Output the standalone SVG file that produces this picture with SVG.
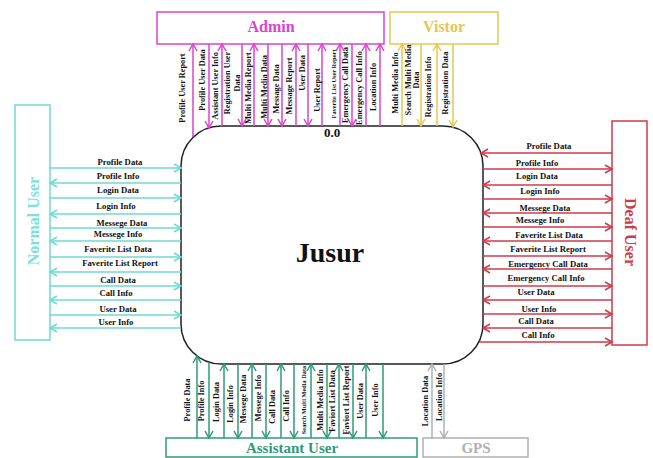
<svg xmlns="http://www.w3.org/2000/svg" width="653" height="458" viewBox="0 0 653 458">
<style>
.lbl{font-family:"Liberation Serif","Times New Roman",serif;font-weight:bold;font-size:8.7px;fill:#111}
.tl{font-family:"Liberation Serif","Times New Roman",serif;font-weight:bold;font-size:8.3px;fill:#111}
.sm{font-family:"Liberation Serif","Times New Roman",serif;font-weight:bold;font-size:6.3px;fill:#111}
.ent{font-family:"Liberation Serif","Times New Roman",serif;font-weight:bold;font-size:16px}
.cy{stroke:#6fd9d3;stroke-width:1.5;fill:none}
.rd{stroke:#cc3b4b;stroke-width:1.5;fill:none}
.mg{stroke:#d944cf;stroke-width:1.5;fill:none}
.yl{stroke:#e6c650;stroke-width:1.5;fill:none}
.gn{stroke:#2f9a7a;stroke-width:1.5;fill:none}
.gy{stroke:#b0b0b0;stroke-width:1.5;fill:none}
.cy line{marker-end:url(#acy)}
.rd line{marker-end:url(#ard)}
.mg line{marker-end:url(#amg)}
.yl line{marker-end:url(#ayl)}
.gn line{marker-end:url(#agn)}
.gy line{marker-end:url(#agy)}
</style>
<defs>
<marker id="acy" viewBox="0 0 8 8" refX="7" refY="4" markerWidth="8" markerHeight="8" orient="auto" markerUnits="userSpaceOnUse" overflow="visible"><path d="M0,0 L7,4 L0,8" fill="none" stroke="#6fd9d3" stroke-width="1.5"/></marker>
<marker id="ard" viewBox="0 0 8 8" refX="7" refY="4" markerWidth="8" markerHeight="8" orient="auto" markerUnits="userSpaceOnUse" overflow="visible"><path d="M0,0 L7,4 L0,8" fill="none" stroke="#cc3b4b" stroke-width="1.5"/></marker>
<marker id="amg" viewBox="0 0 8 8" refX="7" refY="4" markerWidth="8" markerHeight="8" orient="auto" markerUnits="userSpaceOnUse" overflow="visible"><path d="M0,0 L7,4 L0,8" fill="none" stroke="#d944cf" stroke-width="1.5"/></marker>
<marker id="ayl" viewBox="0 0 8 8" refX="7" refY="4" markerWidth="8" markerHeight="8" orient="auto" markerUnits="userSpaceOnUse" overflow="visible"><path d="M0,0 L7,4 L0,8" fill="none" stroke="#e6c650" stroke-width="1.5"/></marker>
<marker id="agn" viewBox="0 0 8 8" refX="7" refY="4" markerWidth="8" markerHeight="8" orient="auto" markerUnits="userSpaceOnUse" overflow="visible"><path d="M0,0 L7,4 L0,8" fill="none" stroke="#2f9a7a" stroke-width="1.5"/></marker>
<marker id="agy" viewBox="0 0 8 8" refX="7" refY="4" markerWidth="8" markerHeight="8" orient="auto" markerUnits="userSpaceOnUse" overflow="visible"><path d="M0,0 L7,4 L0,8" fill="none" stroke="#b0b0b0" stroke-width="1.5"/></marker>
</defs>
<rect width="653" height="458" fill="#fff"/>

<g id="process">
<rect x="181" y="126" width="302" height="238" rx="40" fill="#fff" stroke="#222" stroke-width="1.5"/>
<text x="332" y="137" text-anchor="middle" style="font-family:'Liberation Serif',serif;font-weight:bold;font-size:13px;fill:#111">0.0</text>
<text x="330" y="262" text-anchor="middle" style="font-family:'Liberation Serif',serif;font-weight:bold;font-size:28px;fill:#111">Jusur</text>
</g>

<g id="admin">
<rect x="157" y="12" width="227" height="32" fill="#fff" class="mg"/>
<text x="271" y="32" text-anchor="middle" class="ent" fill="#d944cf">Admin</text>
</g>
<g id="visitor">
<rect x="390" y="12" width="108" height="32" fill="#fff" class="yl"/>
<text x="444" y="32" text-anchor="middle" class="ent" fill="#e6c650">Vistor</text>
</g>
<g id="normal-user">
<rect x="15" y="105" width="35" height="235" fill="#fff" class="cy"/>
<text transform="translate(33,221) rotate(-90)" text-anchor="middle" dominant-baseline="central" class="ent" fill="#7fe0da">Normal User</text>
</g>
<g id="deaf-user">
<rect x="612" y="121" width="35" height="224" fill="#fff" class="rd"/>
<text transform="translate(630,232) rotate(90)" text-anchor="middle" dominant-baseline="central" class="ent" fill="#cc3b4b">Deaf User</text>
</g>
<g id="assistant-user">
<rect x="166" y="438" width="251" height="19" fill="#fff" class="gn"/>
<text x="292" y="453" text-anchor="middle" class="ent" style="font-size:15px" fill="#2f9a7a">Assistant User</text>
</g>
<g id="gps">
<rect x="423" y="438" width="105" height="19" fill="#fff" class="gy"/>
<text x="476" y="453" text-anchor="middle" class="ent" style="font-size:15px" fill="#b0b0b0">GPS</text>
</g>

<g id="connectors">
<g class="cy">
<line x1="50" y1="168" x2="181" y2="168"/>
<line x1="181" y1="183" x2="50" y2="183"/>
<line x1="50" y1="198" x2="181" y2="198"/>
<line x1="181" y1="214" x2="50" y2="214"/>
<line x1="50" y1="228" x2="181" y2="228"/>
<line x1="181" y1="241" x2="50" y2="241"/>
<line x1="50" y1="257" x2="181" y2="257"/>
<line x1="181" y1="272" x2="50" y2="272"/>
<line x1="50" y1="286" x2="181" y2="286"/>
<line x1="181" y1="300" x2="50" y2="300"/>
<line x1="50" y1="315" x2="181" y2="315"/>
<line x1="181" y1="328" x2="50" y2="328"/>
</g>
<g class="rd">
<line x1="612" y1="153" x2="481" y2="153"/>
<line x1="483" y1="169" x2="612" y2="169"/>
<line x1="612" y1="185" x2="483" y2="185"/>
<line x1="483" y1="199" x2="612" y2="199"/>
<line x1="612" y1="213" x2="483" y2="213"/>
<line x1="483" y1="227" x2="612" y2="227"/>
<line x1="612" y1="241" x2="483" y2="241"/>
<line x1="483" y1="256" x2="612" y2="256"/>
<line x1="612" y1="269" x2="483" y2="269"/>
<line x1="483" y1="286" x2="612" y2="286"/>
<line x1="612" y1="300" x2="483" y2="300"/>
<line x1="483" y1="314" x2="612" y2="314"/>
<line x1="612" y1="328" x2="483" y2="328"/>
<line x1="479" y1="342" x2="612" y2="342"/>
</g>
<g class="mg">
<line x1="193" y1="137" x2="193" y2="44"/>
<line x1="209" y1="44" x2="209" y2="128"/>
<line x1="222" y1="126" x2="222" y2="44"/>
<line x1="242" y1="44" x2="242" y2="126"/>
<line x1="254" y1="126" x2="254" y2="44"/>
<line x1="268" y1="44" x2="268" y2="126"/>
<line x1="282" y1="44" x2="282" y2="126"/>
<line x1="296" y1="126" x2="296" y2="44"/>
<line x1="308" y1="44" x2="308" y2="126"/>
<line x1="322" y1="126" x2="322" y2="44"/>
<line x1="340" y1="126" x2="340" y2="44"/>
<line x1="352" y1="44" x2="352" y2="126"/>
<line x1="366" y1="126" x2="366" y2="44"/>
<line x1="380" y1="126" x2="380" y2="44"/>
</g>
<g class="yl">
<line x1="402" y1="126" x2="402" y2="44"/>
<line x1="421" y1="44" x2="421" y2="126"/>
<line x1="437" y1="126" x2="437" y2="44"/>
<line x1="453" y1="44" x2="453" y2="127"/>
</g>
<g class="gn">
<line x1="197" y1="438" x2="197" y2="356"/>
<line x1="209" y1="362" x2="209" y2="438"/>
<line x1="224" y1="438" x2="224" y2="364"/>
<line x1="238" y1="364" x2="238" y2="438"/>
<line x1="252" y1="438" x2="252" y2="364"/>
<line x1="266" y1="364" x2="266" y2="438"/>
<line x1="281" y1="438" x2="281" y2="364"/>
<line x1="294" y1="364" x2="294" y2="438"/>
<line x1="311" y1="438" x2="311" y2="364"/>
<line x1="327" y1="364" x2="327" y2="438"/>
<line x1="339" y1="438" x2="339" y2="364"/>
<line x1="353" y1="364" x2="353" y2="438"/>
<line x1="366" y1="438" x2="366" y2="364"/>
<line x1="383" y1="364" x2="383" y2="438"/>
</g>
<g class="gy">
<line x1="432" y1="438" x2="432" y2="364"/>
<line x1="444" y1="364" x2="444" y2="438"/>
</g>
</g>

<g id="labels-left" class="lbl" text-anchor="middle">
<text x="120" y="165">Profile Data</text>
<text x="118" y="179">Profile Info</text>
<text x="118" y="193">Login Data</text>
<text x="116" y="209">Login Info</text>
<text x="122" y="226">Messege Data</text>
<text x="118" y="237">Messege Info</text>
<text x="118" y="252">Faverite List Data</text>
<text x="120" y="266">Faverite List Report</text>
<text x="118" y="283">Call Data</text>
<text x="116" y="296">Call Info</text>
<text x="118" y="312">User Data</text>
<text x="116" y="325">User Info</text>
</g>
<g id="labels-right" class="lbl" text-anchor="middle">
<text x="549" y="149">Profile Data</text>
<text x="537" y="166">Profile Info</text>
<text x="537" y="179">Login Data</text>
<text x="540" y="194">Login Info</text>
<text x="545" y="211">Messege Data</text>
<text x="540" y="223">Messege Info</text>
<text x="549" y="238">Faverite List Data</text>
<text x="548" y="252">Faverite List Report</text>
<text x="548" y="267">Emergency Call Data</text>
<text x="546" y="281">Emergency Call Info</text>
<text x="536" y="295">User Data</text>
<text x="539" y="312">User Info</text>
<text x="536" y="324">Call Data</text>
<text x="538" y="338">Call Info</text>
</g>
<g id="labels-top" class="tl" text-anchor="middle" dominant-baseline="central">
<text transform="translate(182,88) rotate(-90)">Profile User Report</text>
<text transform="translate(202,80) rotate(-90)">Profile User Data</text>
<text transform="translate(215,86) rotate(-90)">Assistant User Info</text>
<text transform="translate(227,83) rotate(-90)">Registration User</text>
<text transform="translate(237,83) rotate(-90)">Data</text>
<text transform="translate(248,88) rotate(-90)">Multi Media Report</text>
<text transform="translate(264,87) rotate(-90)">Multi Media Data</text>
<text transform="translate(276,89) rotate(-90)">Message Data</text>
<text transform="translate(289,86) rotate(-90)">Message Report</text>
<text transform="translate(302,73) rotate(-90)">User Data</text>
<text transform="translate(317,90) rotate(-90)">User Report</text>
<text class="sm" transform="translate(333,84) rotate(-90)">Faverite List User Report</text>
<text transform="translate(345,85) rotate(-90)">Emergency Call Data</text>
<text transform="translate(359,88) rotate(-90)">Emergency Call Info</text>
<text transform="translate(373,87) rotate(-90)">Location Info</text>
<text transform="translate(395,83) rotate(-90)">Multi Media Info</text>
<text transform="translate(408,80) rotate(-90)">Search Multi Media</text>
<text transform="translate(416,80) rotate(-90)">Data</text>
<text transform="translate(428,87) rotate(-90)">Registration Info</text>
<text transform="translate(445,83) rotate(-90)">Registration Data</text>
</g>
<g id="labels-bottom" class="tl" text-anchor="middle" dominant-baseline="central">
<text transform="translate(187,400) rotate(-90)">Profile Data</text>
<text transform="translate(201,401) rotate(-90)">Profile Info</text>
<text transform="translate(216,402) rotate(-90)">Login Data</text>
<text transform="translate(230,404) rotate(-90)">Login Info</text>
<text transform="translate(243,399) rotate(-90)">Messege Data</text>
<text transform="translate(258,398) rotate(-90)">Messege Info</text>
<text transform="translate(272,407) rotate(-90)">Call Data</text>
<text transform="translate(286,406) rotate(-90)">Call Info</text>
<text class="sm" transform="translate(303,400) rotate(-90)">Search Multi Media Data</text>
<text transform="translate(320,400) rotate(-90)">Multi Media Info</text>
<text transform="translate(332,401) rotate(-90)">Faviort List Data</text>
<text transform="translate(346,400) rotate(-90)">Faviort List Report</text>
<text transform="translate(360,401) rotate(-90)">User Data</text>
<text transform="translate(375,400) rotate(-90)">User Info</text>
<text transform="translate(425,401) rotate(-90)">Location Data</text>
<text transform="translate(439,397) rotate(-90)">Location Info</text>
</g>
</svg>
